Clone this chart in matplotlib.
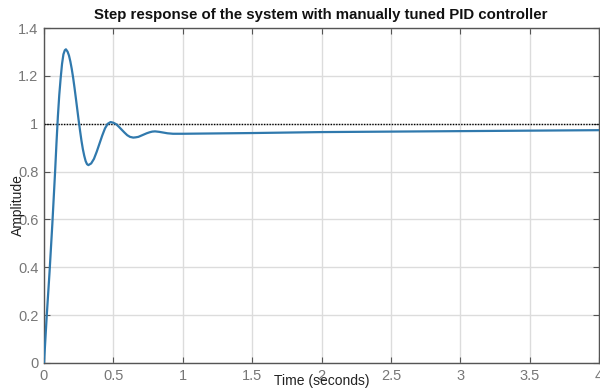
import matplotlib
matplotlib.use("Agg")
import matplotlib.pyplot as plt

plt.rcParams['font.family'] = ['Liberation Sans', 'DejaVu Sans']

time_s = [0, 0.02, 0.04, 0.06, 0.08, 0.09, 0.10, 0.11, 0.12, 0.13, 0.14, 0.15, 0.158,
          0.17, 0.18, 0.19, 0.20, 0.21, 0.22, 0.23, 0.24, 0.25, 0.26, 0.27, 0.28, 0.29,
          0.30, 0.31, 0.32, 0.34, 0.36, 0.38, 0.40, 0.42, 0.44, 0.46, 0.48, 0.50, 0.52,
          0.54, 0.56, 0.58, 0.60, 0.62, 0.643, 0.66, 0.68, 0.70, 0.72, 0.74, 0.76, 0.78,
          0.80, 0.83, 0.86, 0.89, 0.93, 1.0, 1.5, 2.0, 2.5, 3.0, 3.5, 4.0]
amplitude = [0, 0.20, 0.38, 0.58, 0.80, 0.92, 1.03, 1.12, 1.19, 1.25, 1.29, 1.307, 1.311,
             1.301, 1.285, 1.260, 1.229, 1.192, 1.150, 1.105, 1.059, 1.013, 0.970, 0.929,
             0.894, 0.866, 0.844, 0.831, 0.827, 0.834, 0.853, 0.883, 0.917, 0.951, 0.981,
             1.000, 1.007, 1.004, 0.998, 0.987, 0.975, 0.963, 0.952, 0.945, 0.942, 0.943,
             0.945, 0.950, 0.955, 0.960, 0.964, 0.967, 0.968, 0.966, 0.963, 0.960, 0.958,
             0.958, 0.961, 0.965, 0.967, 0.969, 0.971, 0.973]
reference_level = 1.0
x_ticks = [0, 0.5, 1, 1.5, 2, 2.5, 3, 3.5, 4]
x_tick_labels = ['0', '0.5', '1', '1.5', '2', '2.5', '3', '3.5', '4']
y_ticks = [0, 0.2, 0.4, 0.6, 0.8, 1.0, 1.2, 1.4]
y_tick_labels = ['0', '0.2', '0.4', '0.6', '0.8', '1', '1.2', '1.4']

fig = plt.figure(figsize=(6.0, 3.89), dpi=100)
ax = fig.add_axes([44/600, 26/389, 555/600, 335/389])

ax.axhline(reference_level, color='black', linestyle=(0, (1, 1)), linewidth=1.0, zorder=2)
ax.plot(time_s, amplitude, color='#3079ad', linewidth=1.6, zorder=3)

ax.set_xlim(0, 4)
ax.set_ylim(0, 1.4)
ax.set_xticks(x_ticks)
ax.set_xticklabels(x_tick_labels)
ax.set_yticks(y_ticks)
ax.set_yticklabels(y_tick_labels)
ax.grid(True, color='#dcdcdc', linewidth=1.0)
ax.set_axisbelow(True)
for s in ax.spines.values():
    s.set_color('#555555')
    s.set_linewidth(1.0)
ax.tick_params(direction='in', length=4, width=0.8, color='#555555',
               labelcolor='#777777', labelsize=10.5, top=True, right=True, pad=4)

fig.text(321/600, 1 - 15/389, 'Step response of the system with manually tuned PID controller',
         ha='center', va='center', fontsize=10.8, fontweight='bold', color='#111111')
fig.text(322/600, 1 - 381/389, 'Time (seconds)', ha='center', va='center',
         fontsize=10, color='#222222')
fig.text(18/600, 1 - 205/389, 'Amplitude', ha='center', va='center', rotation=90,
         fontsize=10, color='#222222')

fig.savefig('out.png', dpi=100)
